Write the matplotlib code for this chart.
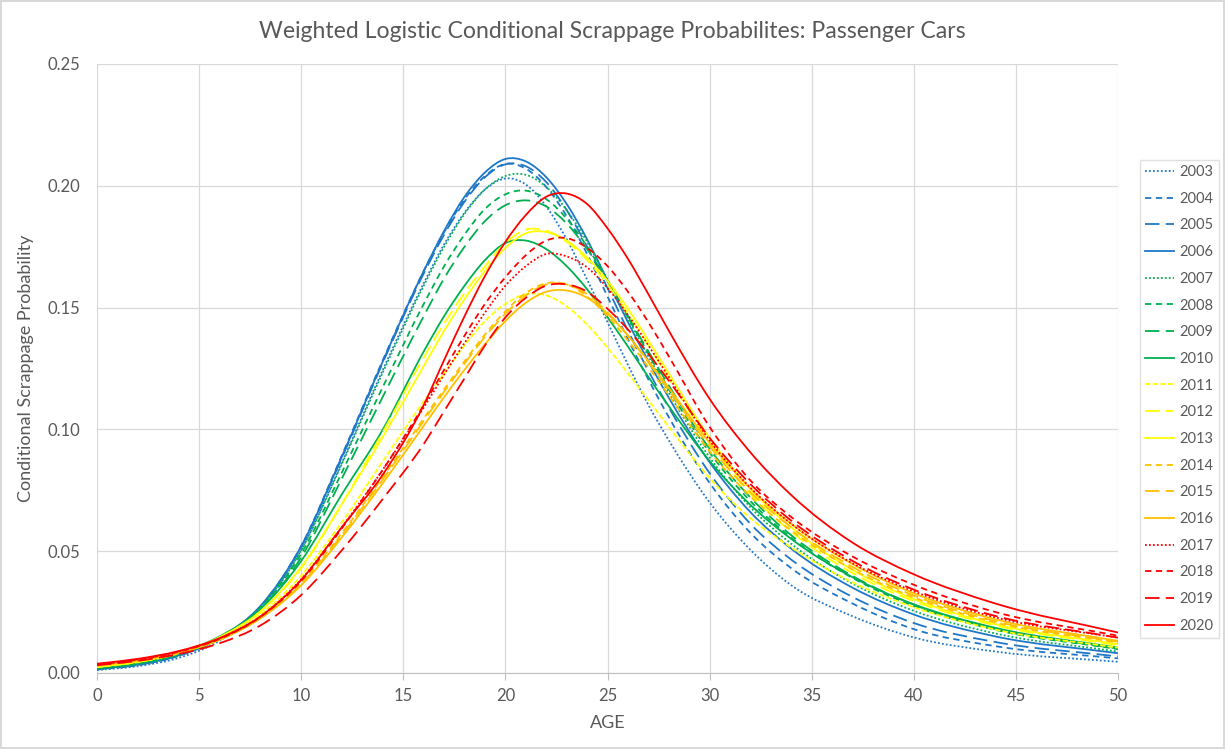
import matplotlib
matplotlib.use("Agg")
import matplotlib.pyplot as plt
from matplotlib.path import Path
from matplotlib.patches import PathPatch
from matplotlib.lines import Line2D

ages = [0, 2, 4, 6, 8, 10, 12, 14, 16, 17, 18, 19, 20, 21, 22, 23, 24, 25, 26, 27, 28, 30, 32, 34, 37, 40, 44, 50]

p2003 = [0.0012, 0.0028, 0.0062, 0.0132, 0.0262, 0.0505, 0.0865, 0.1245, 0.1600, 0.1760, 0.1890, 0.1985, 0.2030, 0.2005, 0.1915, 0.1780, 0.1615, 0.1440, 0.1265, 0.1100, 0.0955, 0.0700, 0.0505, 0.0360, 0.0233, 0.0146, 0.0088, 0.0046]
p2004 = [0.0014, 0.0032, 0.0070, 0.0142, 0.0272, 0.0522, 0.0895, 0.1285, 0.1650, 0.1810, 0.1945, 0.2040, 0.2090, 0.2070, 0.1995, 0.1875, 0.1720, 0.1545, 0.1370, 0.1205, 0.1050, 0.0780, 0.0575, 0.0430, 0.0285, 0.0180, 0.0110, 0.0060]
p2005 = [0.0015, 0.0033, 0.0071, 0.0142, 0.0271, 0.0518, 0.0885, 0.1275, 0.1640, 0.1800, 0.1935, 0.2035, 0.2088, 0.2080, 0.2015, 0.1900, 0.1750, 0.1580, 0.1405, 0.1240, 0.1090, 0.0820, 0.0612, 0.0465, 0.0312, 0.0205, 0.0127, 0.0068]
p2006 = [0.0016, 0.0035, 0.0073, 0.0145, 0.0275, 0.0520, 0.0890, 0.1280, 0.1650, 0.1815, 0.1955, 0.2055, 0.2110, 0.2100, 0.2035, 0.1925, 0.1780, 0.1610, 0.1440, 0.1280, 0.1130, 0.0865, 0.0660, 0.0510, 0.0350, 0.0240, 0.0150, 0.0081]
p2007 = [0.0016, 0.0035, 0.0073, 0.0143, 0.0270, 0.0505, 0.0860, 0.1235, 0.1590, 0.1750, 0.1885, 0.1985, 0.2040, 0.2045, 0.1995, 0.1900, 0.1770, 0.1615, 0.1455, 0.1300, 0.1150, 0.0885, 0.0680, 0.0530, 0.0367, 0.0255, 0.0162, 0.0088]
p2008 = [0.0019, 0.0039, 0.0078, 0.0146, 0.0266, 0.0490, 0.0825, 0.1175, 0.1515, 0.1670, 0.1800, 0.1905, 0.1965, 0.1980, 0.1945, 0.1865, 0.1750, 0.1610, 0.1460, 0.1310, 0.1165, 0.0905, 0.0705, 0.0555, 0.0390, 0.0275, 0.0177, 0.0098]
p2009 = [0.0020, 0.0040, 0.0078, 0.0145, 0.0260, 0.0475, 0.0800, 0.1135, 0.1465, 0.1620, 0.1750, 0.1855, 0.1920, 0.1940, 0.1915, 0.1845, 0.1740, 0.1610, 0.1465, 0.1320, 0.1180, 0.0920, 0.0720, 0.0565, 0.0398, 0.0280, 0.0180, 0.0100]
p2010 = [0.0022, 0.0043, 0.0082, 0.0150, 0.0262, 0.0460, 0.0735, 0.1000, 0.1320, 0.1465, 0.1590, 0.1695, 0.1765, 0.1775, 0.1740, 0.1670, 0.1575, 0.1460, 0.1340, 0.1215, 0.1095, 0.0870, 0.0690, 0.0550, 0.0393, 0.0282, 0.0185, 0.0104]
p2011 = [0.0025, 0.0045, 0.0080, 0.0140, 0.0240, 0.0400, 0.0620, 0.0870, 0.1115, 0.1230, 0.1345, 0.1445, 0.1515, 0.1555, 0.1550, 0.1505, 0.1430, 0.1335, 0.1230, 0.1120, 0.1010, 0.0800, 0.0635, 0.0515, 0.0372, 0.0270, 0.0178, 0.0104]
p2012 = [0.0024, 0.0045, 0.0082, 0.0146, 0.0252, 0.0430, 0.0695, 0.0990, 0.1295, 0.1435, 0.1560, 0.1670, 0.1765, 0.1820, 0.1815, 0.1770, 0.1695, 0.1595, 0.1475, 0.1345, 0.1210, 0.0945, 0.0735, 0.0580, 0.0410, 0.0295, 0.0195, 0.0114]
p2013 = [0.0025, 0.0046, 0.0083, 0.0147, 0.0253, 0.0435, 0.0695, 0.0970, 0.1260, 0.1405, 0.1535, 0.1650, 0.1745, 0.1805, 0.1810, 0.1775, 0.1705, 0.1610, 0.1495, 0.1365, 0.1230, 0.0965, 0.0755, 0.0597, 0.0423, 0.0303, 0.0200, 0.0118]
p2014 = [0.0030, 0.0050, 0.0083, 0.0138, 0.0228, 0.0370, 0.0575, 0.0805, 0.1045, 0.1165, 0.1280, 0.1390, 0.1485, 0.1560, 0.1600, 0.1595, 0.1545, 0.1465, 0.1365, 0.1255, 0.1140, 0.0910, 0.0725, 0.0585, 0.0425, 0.0310, 0.0207, 0.0125]
p2015 = [0.0030, 0.0050, 0.0083, 0.0137, 0.0226, 0.0365, 0.0568, 0.0795, 0.1035, 0.1155, 0.1270, 0.1380, 0.1475, 0.1550, 0.1595, 0.1595, 0.1555, 0.1480, 0.1385, 0.1275, 0.1160, 0.0930, 0.0742, 0.0598, 0.0435, 0.0318, 0.0212, 0.0128]
p2016 = [0.0031, 0.0051, 0.0083, 0.0136, 0.0224, 0.0360, 0.0558, 0.0780, 0.1015, 0.1133, 0.1245, 0.1350, 0.1445, 0.1520, 0.1565, 0.1570, 0.1540, 0.1475, 0.1385, 0.1280, 0.1170, 0.0945, 0.0757, 0.0612, 0.0447, 0.0327, 0.0220, 0.0132]
p2017 = [0.0035, 0.0055, 0.0088, 0.0142, 0.0232, 0.0385, 0.0600, 0.0835, 0.1090, 0.1225, 0.1355, 0.1480, 0.1590, 0.1670, 0.1720, 0.1710, 0.1665, 0.1580, 0.1470, 0.1345, 0.1215, 0.0955, 0.0760, 0.0612, 0.0450, 0.0335, 0.0228, 0.0145]
p2018 = [0.0035, 0.0055, 0.0087, 0.0140, 0.0230, 0.0378, 0.0595, 0.0835, 0.1100, 0.1245, 0.1385, 0.1515, 0.1625, 0.1715, 0.1775, 0.1785, 0.1745, 0.1670, 0.1565, 0.1440, 0.1300, 0.1010, 0.0790, 0.0640, 0.0478, 0.0362, 0.0250, 0.0153]
p2019 = [0.0032, 0.0050, 0.0078, 0.0122, 0.0195, 0.0320, 0.0505, 0.0715, 0.0940, 0.1075, 0.1210, 0.1345, 0.1460, 0.1540, 0.1590, 0.1595, 0.1565, 0.1495, 0.1410, 0.1310, 0.1200, 0.0965, 0.0775, 0.0625, 0.0460, 0.0342, 0.0234, 0.0145]
p2020 = [0.0038, 0.0058, 0.0090, 0.0143, 0.0232, 0.0382, 0.0600, 0.0815, 0.1100, 0.1285, 0.1465, 0.1630, 0.1770, 0.1880, 0.1955, 0.1968, 0.1925, 0.1825, 0.1700, 0.1555, 0.1405, 0.1125, 0.0905, 0.0730, 0.0535, 0.0405, 0.0285, 0.0166]

years = ['2003', '2004', '2005', '2006', '2007', '2008', '2009', '2010', '2011',
         '2012', '2013', '2014', '2015', '2016', '2017', '2018', '2019', '2020']
values = [p2003, p2004, p2005, p2006, p2007, p2008, p2009, p2010, p2011,
          p2012, p2013, p2014, p2015, p2016, p2017, p2018, p2019, p2020]

blue = '#1F77C8'
green = '#00B050'
yellow = '#FFFF00'
orange = '#FFC000'
red = '#FF0000'

dot = (0, (1, 1.2))
dash = (0, (3.5, 2.5))
longdash = (0, (8, 3.5))
sysdash = (0, (3, 1.2))
solid = '-'

colors = [blue] * 4 + [green] * 4 + [yellow] * 3 + [orange] * 3 + [red] * 4
styles = [dot, dash, longdash, solid,
          dot, dash, longdash, solid,
          sysdash, longdash, solid,
          dash, longdash, solid,
          dot, dash, longdash, solid]


def smooth_path(x, y):
    # smoothed line like the spreadsheet draws it: cubic Bezier through every point
    n = len(x)
    slopes = []
    for i in range(n):
        if i == 0:
            slopes.append((y[1] - y[0]) / (x[1] - x[0]))
        elif i == n - 1:
            slopes.append((y[-1] - y[-2]) / (x[-1] - x[-2]))
        else:
            h0 = x[i] - x[i - 1]
            h1 = x[i + 1] - x[i]
            d0 = (y[i] - y[i - 1]) / h0
            d1 = (y[i + 1] - y[i]) / h1
            slopes.append((d0 * h1 + d1 * h0) / (h0 + h1))
    verts = [(x[0], y[0])]
    codes = [Path.MOVETO]
    for i in range(n - 1):
        h = x[i + 1] - x[i]
        verts += [(x[i] + h / 3, y[i] + slopes[i] * h / 3),
                  (x[i + 1] - h / 3, y[i + 1] - slopes[i + 1] * h / 3),
                  (x[i + 1], y[i + 1])]
        codes += [Path.CURVE4] * 3
    return Path(verts, codes)


gray = '#595959'
plt.rcParams['font.family'] = ['Lato', 'DejaVu Sans']

fig = plt.figure(figsize=(12.25, 7.49), dpi=100)
fig.patch.set_edgecolor('#D9D9D9')
fig.patch.set_linewidth(1.5)
ax = fig.add_axes([0.0792, 0.1015, 0.8335, 0.8131])

handles = []
for yr, vals, c, ls in zip(years, values, colors, styles):
    ax.add_patch(PathPatch(smooth_path(ages, vals), fill=False, edgecolor=c,
                           linestyle=ls, linewidth=1.3))
    handles.append(Line2D([], [], color=c, linestyle=ls, linewidth=1.3, label=yr))

ax.set_xlim(0, 50)
ax.set_ylim(0, 0.25)
ax.set_xticks(range(0, 51, 5))
ax.set_yticks([0, 0.05, 0.10, 0.15, 0.20, 0.25])
ax.set_yticklabels(['0.00', '0.05', '0.10', '0.15', '0.20', '0.25'])
ax.grid(True, color='#D9D9D9', linewidth=0.9)
ax.set_axisbelow(True)
for s in ['top', 'right', 'left']:
    ax.spines[s].set_visible(False)
ax.spines['bottom'].set_color('#BFBFBF')
ax.tick_params(axis='x', colors=gray, labelsize=12, length=5, color='#BFBFBF', pad=6)
ax.tick_params(axis='y', colors=gray, labelsize=12, length=0, pad=12)

ax.set_xlabel('AGE', fontsize=13, color=gray, labelpad=8)
ax.set_ylabel('Conditional Scrappage Probability', fontsize=13, color=gray, labelpad=10)
fig.text(0.5, 0.958, 'Weighted Logistic Conditional Scrappage Probabilites: Passenger Cars',
         ha='center', va='center', fontsize=16.6, color=gray)

leg = fig.legend(handles=handles, loc='upper left', bbox_to_anchor=(0.9306, 0.7864),
                 fontsize=10.5, frameon=True, fancybox=False, labelspacing=0.87,
                 handlelength=2.0, handletextpad=0.35, borderpad=0.35, borderaxespad=0)
leg.get_frame().set_edgecolor('#D9D9D9')
for t in leg.get_texts():
    t.set_color(gray)

fig.savefig('out.png', dpi=100)
